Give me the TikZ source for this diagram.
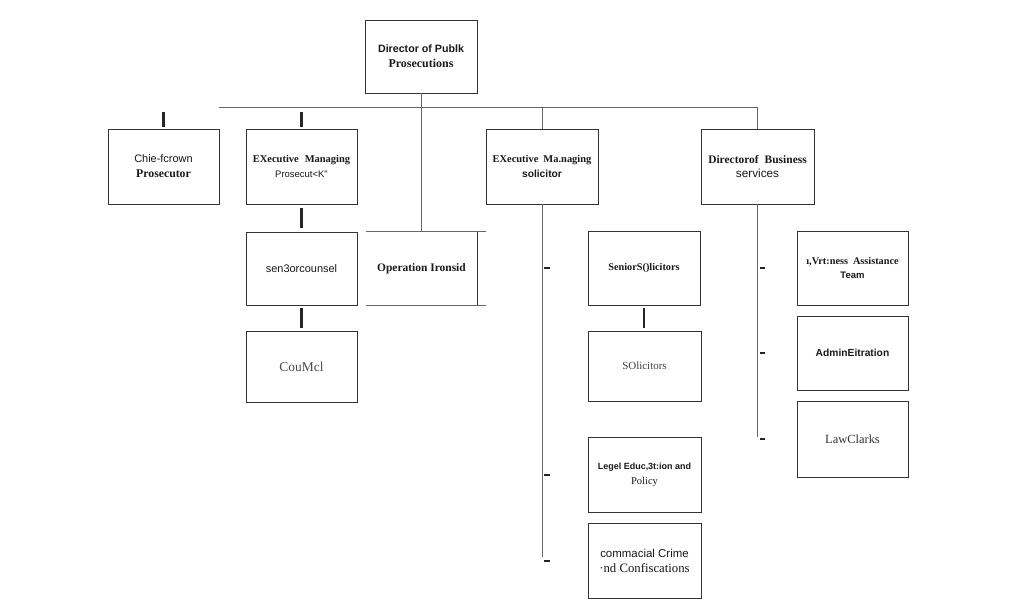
\documentclass[tikz,border=0pt]{standalone}
\usepackage{fontspec}
\setmainfont{Liberation Serif}
\newfontfamily\arialf{Liberation Sans}
\newcommand\fs[1]{\fontsize{#1}{15}\selectfont}
\newcommand\sfB{\arialf\bfseries}
\newcommand\sfR{\arialf\mdseries}
\newcommand\rmB{\rmfamily\bfseries}
\newcommand\rmR{\rmfamily\mdseries}
\begin{document}
\begin{tikzpicture}[x=1bp,y=-1bp,
  box/.style={draw=black!80,line width=0.95bp,minimum width=111bp,minimum height=74bp,inner sep=0pt,align=center,text=black!90,font=\fontsize{10}{15}\selectfont},
  link/.style={draw=black!60,line width=0.9bp},
  edge/.style={draw=black!80,line width=0.95bp},
  tick/.style={draw=black!85,line width=2.4bp},
  minitick/.style={draw=black!85,line width=2bp}]
\path[use as bounding box] (0,0) rectangle (1019,611);
\fill[white] (0,0) rectangle (1019,611);

% nodes
\node[box, minimum width=112bp, minimum height=73bp] (dpp) at (421,56.5) {{\sfB\fs{10.7}Director of Publk}\\{\rmB\fs{12}Prosecutions}};
\node[box, minimum height=75bp] (chief) at (163.5,166.5) {{\sfR\fs{11}Chie-fcrown}\\{\rmB\fs{11.8}Prosecutor}};
\node[box, minimum height=75bp] (emp) at (301.5,166.5) {{\rmB\fs{10.5}EXecutive\hspace{6bp}Managing}\\{\sfR\fs{9.5}Prosecut<K"}};
\node[box, minimum height=73bp] (sc) at (301.5,268.5) {\sfR\fs{11}sen3orcounsel};
\node[box, minimum height=71bp] (cou) at (301.5,366.5) {\rmR\fs{13.5}\color{black!70}CouMcl};
\node[minimum width=111bp, minimum height=73bp, inner sep=0pt, text=black!90, font=\rmB\fs{11.5}] (op) at (421.5,268.5) {Operation Ironsid};
\node[box, minimum width=112bp, minimum height=75bp] (ems) at (542,166.5) {{\rmB\fs{10.5}EXecutive\hspace{5bp}Ma.naging}\\{\sfB\fs{10.3}solicitor}};
\node[box, minimum width=113bp, minimum height=75bp] (dbs) at (757.5,166.5) {{\rmB\fs{11.5}Directorof\hspace{6bp}Business}\\{\sfR\fs{11.8}services}};
\node[box, minimum width=112bp] (ss) at (644,268) {\rmB\fs{10.3}SeniorS()licitors};
\node[box, minimum width=113bp, minimum height=70bp] (sol) at (644.5,366) {\rmR\fs{11}\color{black!75}SOlicitors};
\node[box, minimum width=113bp, minimum height=75bp] (leg) at (644.5,474.5) {{\sfB\fs{9}Legel Educ,3t:ion and}\\{\rmR\fs{10.5}Policy}};
\node[box, minimum width=113bp, minimum height=75bp] (com) at (644.5,560.5) {{\sfR\fs{11.5}commacial Crime}\\{\rmR\fs{12.8}·nd Confiscations}};
\node[box] (wit) at (852.5,268) {{\rmB\fs{10.3}ı,Vrt:ness\hspace{5bp}Assistance}\\{\sfB\fs{9.5}Team}};
\node[box] (adm) at (852.5,353) {\sfB\fs{10.3}AdminEitration};
\node[box, minimum height=76bp] (law) at (852.5,439) {\rmR\fs{12.5}\color{black!80}LawClarks};

% bus and links
\coordinate (busL) at (219,107);
\coordinate (busR) at (758,107);
\draw[link] (busL) -- (busR);
\draw[link] (dpp.south) -- (dpp.south |- op.north);
\draw[link] (ems.north) -- (ems.north |- busR);
\draw[link] (dbs.north) -- (dbs.north |- busR);

% operation ironsid partial frame
\draw[link] (op.north west) -- ([xshift=9bp]op.north east);
\draw[link] (op.south west) -- ([xshift=9bp]op.south east);
\draw[edge] (op.north east) -- (op.south east);

% short ticks
\draw[tick] ([yshift=17bp]chief.north) -- ([yshift=2bp]chief.north);
\draw[tick] ([yshift=17bp]emp.north) -- ([yshift=2bp]emp.north);
\draw[tick, shorten <=4bp, shorten >=4bp] (emp.south) -- (emp.south |- sc.north);
\draw[tick, shorten <=3bp, shorten >=3bp] (sc.south) -- (sc.south |- cou.north);
\draw[tick, shorten <=3bp, shorten >=3bp] (ss.south) -- (ss.south |- sol.north);

% trunks
\coordinate (emsEnd) at (542,557);
\coordinate (dbsEnd) at (757.5,437);
\draw[link] (ems.south) -- (emsEnd);
\draw[link] (dbs.south) -- (dbsEnd);
\draw[minitick] ([xshift=2bp]ems.south |- ss.west) -- ++(6,0);
\draw[minitick] ([xshift=2bp]ems.south |- leg.west) -- ++(6,0);
\draw[minitick] ([xshift=2bp]ems.south |- com.west) -- ++(6,0);
\draw[minitick] ([xshift=2bp]dbs.south |- wit.west) -- ++(5,0);
\draw[minitick] ([xshift=2bp]dbs.south |- adm.west) -- ++(5,0);
\draw[minitick] ([xshift=2bp]dbs.south |- law.west) -- ++(5,0);
\end{tikzpicture}
\end{document}
